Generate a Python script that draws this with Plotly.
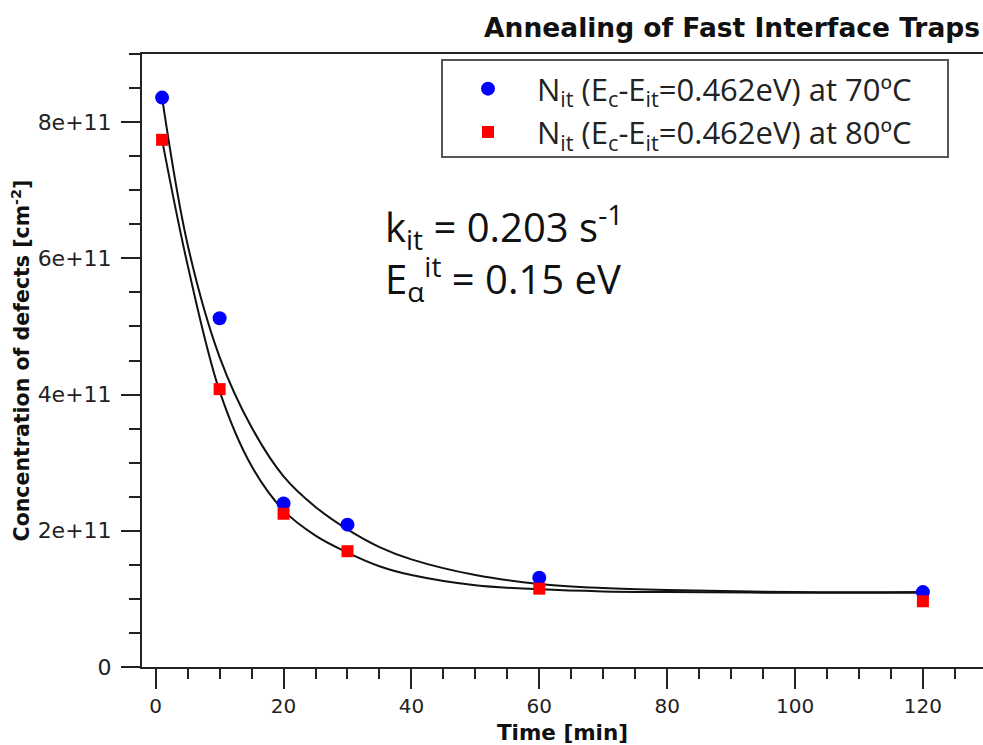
import plotly.graph_objects as go

# ---- data ----
time_min = [1, 10, 20, 30, 60, 120]
n70 = [8.36e11, 5.12e11, 2.40e11, 2.09e11, 1.31e11, 1.10e11]
n80 = [7.74e11, 4.08e11, 2.25e11, 1.70e11, 1.15e11, 0.965e11]

fit_t = [1, 5, 10, 15, 20, 25, 30, 35, 40, 50, 60, 70, 80, 100, 120]
fit70 = [8.36e11, 6.20e11, 4.55e11, 3.52e11, 2.80e11, 2.35e11, 2.02e11, 1.76e11,
         1.58e11, 1.35e11, 1.22e11, 1.16e11, 1.13e11, 1.10e11, 1.10e11]
fit80 = [7.74e11, 5.90e11, 4.05e11, 2.95e11, 2.30e11, 1.93e11, 1.68e11, 1.48e11,
         1.35e11, 1.20e11, 1.14e11, 1.11e11, 1.10e11, 1.09e11, 1.09e11]

name70 = "N<sub>it</sub> (E<sub>c</sub>-E<sub>it</sub>=0.462eV) at 70ºC"
name80 = "N<sub>it</sub> (E<sub>c</sub>-E<sub>it</sub>=0.462eV) at 80ºC"
title_text = "<b>Annealing of Fast Interface Traps</b>"
xlabel = "<b>Time [min]</b>"
ylabel = "<b>Concentration of defects [cm<sup>-2</sup>]</b>"
note = "k<sub>it</sub> = 0.203 s<sup>-1</sup><br>E<sub>α</sub><sup>it</sup> = 0.15 eV"

fig = go.Figure()
fig.add_trace(go.Scatter(x=fit_t, y=fit70, mode="lines", line=dict(color="#111", width=2, shape="spline"),
                         showlegend=False, hoverinfo="skip"))
fig.add_trace(go.Scatter(x=fit_t, y=fit80, mode="lines", line=dict(color="#111", width=2, shape="spline"),
                         showlegend=False, hoverinfo="skip"))
fig.add_trace(go.Scatter(x=time_min, y=n70, mode="markers", name=name70,
                         marker=dict(symbol="circle", size=14, color="#0000ff")))
fig.add_trace(go.Scatter(x=time_min, y=n80, mode="markers", name=name80,
                         marker=dict(symbol="square", size=12, color="#ff0000")))

L, T, B = 142, 54, 667
W, H = 983, 745
pw, ph = W - L, B - T

def px(p):
    return (p - L) / pw

def py(p):
    return 1 - (p - T) / ph

fig.add_shape(type="rect", xref="paper", yref="paper",
              x0=px(442), x1=px(948), y0=py(157), y1=py(60),
              line=dict(color="#555", width=2), fillcolor="rgba(0,0,0,0)")

fig.add_annotation(text=note, xref="paper", yref="paper", x=px(383), y=py(193),
                   xanchor="left", yanchor="top", showarrow=False, align="left",
                   font=dict(family="Open Sans", size=40, color="#111"))

fig.update_layout(
    width=W, height=H,
    margin=dict(l=L, r=0, t=T, b=H - B),
    paper_bgcolor="white", plot_bgcolor="white",
    title=dict(text=title_text, x=0.997, xanchor="right", y=0.963, yanchor="middle",
               font=dict(family="DejaVu Sans", size=26.5, color="#111")),
    legend=dict(x=px(439), y=py(62), xanchor="left", yanchor="top",
                bgcolor="rgba(0,0,0,0)", borderwidth=0,
                font=dict(family="Open Sans", size=31, color="#222"),
                itemwidth=88, tracegroupgap=0),
    showlegend=True,
)

fig.update_xaxes(range=[-2.14, 129.4], showgrid=False, zeroline=False,
                 showline=True, linecolor="#222", linewidth=2, mirror=True,
                 ticks="outside", ticklen=20, tickwidth=2, tickcolor="#222",
                 tick0=0, dtick=20,
                 minor=dict(ticks="outside", ticklen=10, tickwidth=2, tickcolor="#222", dtick=5, tick0=0),
                 tickfont=dict(family="DejaVu Sans", size=20, color="#222"),
                 title=dict(text=xlabel, font=dict(family="DejaVu Sans", size=21.5, color="#111"), standoff=8))
fig.update_yaxes(range=[0, 9e11], showgrid=False, zeroline=False,
                 showline=True, linecolor="#222", linewidth=2, mirror=False,
                 ticks="outside", ticklen=19, tickwidth=2, tickcolor="#222",
                 tick0=0, dtick=2e11, exponentformat="e", showexponent="all",
                 ticklabelstandoff=5,
                 minor=dict(ticks="outside", ticklen=11, tickwidth=2, tickcolor="#222", dtick=0.5e11, tick0=0),
                 tickfont=dict(family="DejaVu Sans", size=22, color="#222"),
                 title=dict(text=ylabel, font=dict(family="DejaVu Sans", size=20.5, color="#111"), standoff=2))

fig.write_html("out.html")
